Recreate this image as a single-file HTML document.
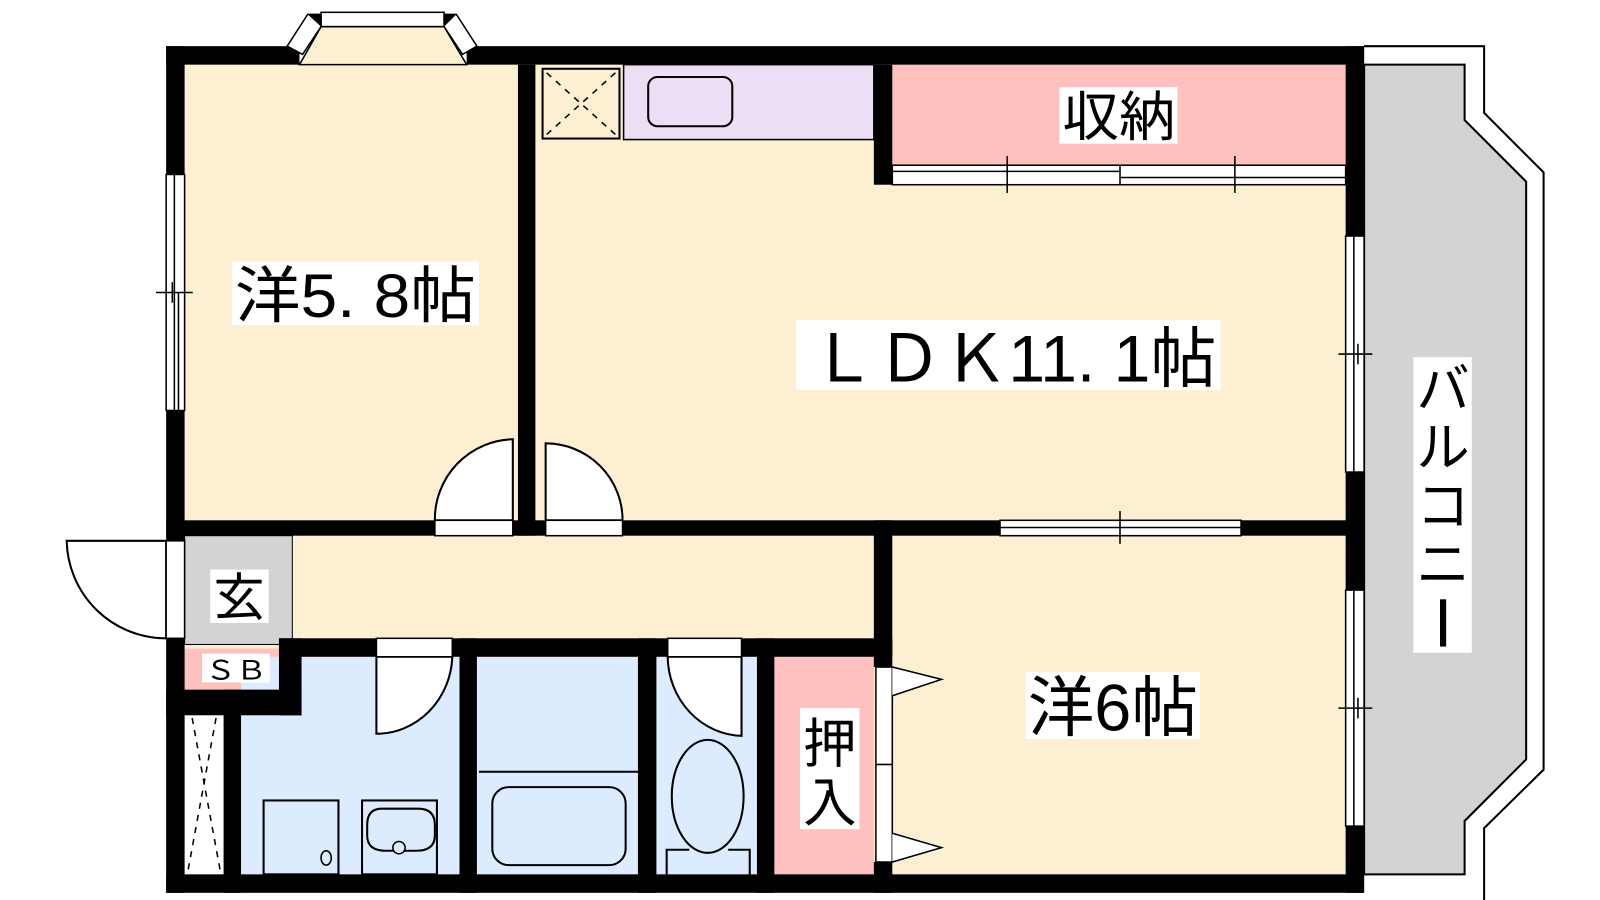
<!DOCTYPE html>
<html><head><meta charset="utf-8"><style>html,body{margin:0;padding:0;background:#fff}svg{display:block}text{font-family:"Liberation Sans","Noto Sans CJK JP",sans-serif;fill:#000}</style></head>
<body>
<svg width="1600" height="900" viewBox="0 0 1560 877" preserveAspectRatio="none" xmlns="http://www.w3.org/2000/svg">
<path d="M1330,45 L1447,45 L1447,110 L1505,168 L1505,750 L1447,807 L1447,877" fill="none" stroke="#000" stroke-width="2"/>
<path d="M1330,63 L1428,63 L1428,117 L1488,177 L1488,740 L1428,800 L1428,852 L1330,852 Z" fill="#d3d3d3" stroke="#000" stroke-width="2"/>
<rect x="180" y="63" width="1132" height="789" fill="#fdf0d2"/>
<rect x="608" y="63" width="244" height="73" fill="#ecdef5" stroke="#000" stroke-width="1.5"/>
<rect x="529" y="67" width="75" height="68" fill="#fdf0d2" stroke="#000" stroke-width="2"/>
<path d="M533,71 L600,131 M600,71 L533,131" stroke="#000" stroke-width="1.5" stroke-dasharray="6,6"/>
<rect x="632" y="75" width="82" height="48" rx="9" fill="none" stroke="#000" stroke-width="2"/>
<rect x="870" y="63" width="442" height="98" fill="#ffc0c0"/>
<rect x="180" y="522" width="105" height="106" fill="#d3d3d3" stroke="#000" stroke-width="1"/>
<rect x="180" y="632" width="92" height="40" fill="#ffc0c0"/>
<rect x="180" y="672" width="38" height="180" fill="#fff"/>
<path d="M183,676 L215,850 M215,676 L183,850" stroke="#000" stroke-width="1.5" stroke-dasharray="6,6"/>
<rect x="235" y="640" width="213" height="212" fill="#dcebfd"/>
<rect x="465" y="640" width="157" height="212" fill="#dcebfd"/>
<rect x="640" y="640" width="98" height="212" fill="#dcebfd"/>
<rect x="755" y="640" width="97" height="212" fill="#ffc0c0"/>
<rect x="257" y="780" width="73" height="72" fill="none" stroke="#000" stroke-width="2"/>
<ellipse cx="318" cy="836" rx="5" ry="7" fill="none" stroke="#000" stroke-width="1.5"/>
<rect x="353" y="780" width="73" height="72" fill="none" stroke="#000" stroke-width="2"/>
<path d="M372,788 h36 q16,0 16,16 v10 q0,15 -18,15 h-30 q-18,0 -18,-15 v-10 q0,-16 14,-16z" fill="none" stroke="#000" stroke-width="2"/>
<circle cx="389" cy="826" r="6" fill="#dcebfd" stroke="#000" stroke-width="1.5"/>
<line x1="467" y1="752" x2="622" y2="752" stroke="#000" stroke-width="2"/>
<rect x="480" y="767" width="130" height="76" rx="16" fill="none" stroke="#000" stroke-width="2"/>
<ellipse cx="690" cy="776" rx="35" ry="55" fill="#dcebfd" stroke="#000" stroke-width="2"/>
<path d="M650,852 V828 H672 M710,828 H731 V852" fill="none" stroke="#000" stroke-width="2"/>
<g fill="#fff" stroke="#000" stroke-width="2">
<path d="M500,507 V428 A78,78 0 0 0 424,507 Z"/>
<path d="M532,507 V432 A75,75 0 0 1 607,507 Z"/>
<path d="M367,640 V715 A74,78 0 0 0 441,640 Z"/>
<path d="M723,640 V717 A74,78 0 0 1 651,640 Z"/>
<path d="M162,527 H65 A97,97 0 0 0 162,622 Z"/>
</g>
<g fill="#000">
<rect x="162" y="45" width="130" height="18"/>
<rect x="455" y="45" width="875" height="18"/>
<rect x="162" y="45" width="18" height="125"/>
<rect x="162" y="400" width="18" height="127"/>
<rect x="162" y="622" width="18" height="248"/>
<rect x="162" y="852" width="1168" height="18"/>
<rect x="1312" y="45" width="18" height="185"/>
<rect x="1312" y="460" width="18" height="115"/>
<rect x="1312" y="805" width="18" height="65"/>
<rect x="505" y="63" width="17" height="459"/>
<rect x="162" y="507" width="262" height="15"/>
<rect x="500" y="507" width="32" height="15"/>
<rect x="607" y="507" width="368" height="15"/>
<rect x="1210" y="507" width="120" height="15"/>
<rect x="852" y="63" width="18" height="117"/>
<rect x="852" y="507" width="18" height="143"/>
<rect x="852" y="840" width="18" height="30"/>
<rect x="272" y="622" width="95" height="18"/>
<rect x="441" y="622" width="210" height="18"/>
<rect x="723" y="622" width="147" height="18"/>
<rect x="272" y="622" width="22" height="75"/>
<rect x="162" y="672" width="132" height="25"/>
<rect x="218" y="672" width="17" height="198"/>
<rect x="448" y="622" width="17" height="248"/>
<rect x="622" y="622" width="18" height="248"/>
<rect x="738" y="622" width="17" height="248"/>
</g>
<g fill="#fff" stroke="#000" stroke-width="1.5">
<rect x="424" y="507" width="76" height="15"/><rect x="532" y="507" width="75" height="15"/>
<rect x="367" y="622" width="74" height="18"/><rect x="651" y="622" width="72" height="18"/>
<rect x="162" y="527" width="18" height="95"/>
</g>
<g fill="#fff" stroke="#000" stroke-width="1.5">
<rect x="162" y="170" width="18" height="230"/>
<line x1="170" y1="170" x2="170" y2="400"/><line x1="174" y1="285" x2="174" y2="400"/>
<line x1="152" y1="285" x2="188" y2="285"/><line x1="168" y1="275" x2="168" y2="295"/>
<rect x="1312" y="230" width="18" height="230"/><line x1="1320" y1="230" x2="1320" y2="460"/>
<line x1="1305" y1="345" x2="1338" y2="345"/><line x1="1324" y1="335" x2="1324" y2="355"/>
<rect x="1312" y="575" width="18" height="230"/><line x1="1320" y1="575" x2="1320" y2="805"/>
<line x1="1305" y1="690" x2="1338" y2="690"/><line x1="1324" y1="680" x2="1324" y2="700"/>
<rect x="975" y="507" width="235" height="15"/><line x1="975" y1="514" x2="1210" y2="514"/>
<line x1="1092" y1="498" x2="1092" y2="530"/>
<rect x="870" y="161" width="442" height="19"/><line x1="870" y1="167" x2="1092" y2="167"/><line x1="1092" y1="173" x2="1312" y2="173"/>
<line x1="1092" y1="161" x2="1092" y2="180"/><line x1="982" y1="152" x2="982" y2="188"/><line x1="1204" y1="152" x2="1204" y2="188"/>
<rect x="854" y="650" width="16" height="95"/><rect x="854" y="745" width="16" height="95"/>
<path d="M870,650 L918,662 L870,678"/><path d="M870,812 L918,826 L870,840"/>
<rect x="313" y="12" width="120" height="14"/>
<path d="M280,45 L300,14 L313,14 L313,26 L295,53 Z"/>
<path d="M465,45 L445,14 L433,14 L433,26 L451,53 Z"/>
</g>
<path d="M292,63 L313,26 H433 L455,63 Z" fill="#fdf0d2" stroke="#000" stroke-width="1.5"/>
<path d="M300,14 L313,14 L313,26 Z M445,14 L433,14 L433,26 Z" fill="#000"/>
<g fill="#fff">
<rect x="226" y="255" width="241" height="62"/><rect x="776" y="312" width="414" height="68"/>
<rect x="1033" y="85" width="115" height="55"/><rect x="1000" y="655" width="170" height="65"/>
<rect x="1378" y="348" width="57" height="288"/><rect x="205" y="555" width="57" height="52"/>
<rect x="197" y="637" width="66" height="28"/><rect x="780" y="690" width="58" height="118"/>
</g>
<text x="229" y="309" font-size="60" textLength="235" lengthAdjust="spacingAndGlyphs">洋5. 8帖</text>
<text x="790" y="372" font-size="64" textLength="396" lengthAdjust="spacingAndGlyphs">ＬＤＫ11. 1帖</text>
<text x="1036" y="132" font-size="52" textLength="110" lengthAdjust="spacingAndGlyphs">収納</text>
<text x="1002" y="712" font-size="64" textLength="166" lengthAdjust="spacingAndGlyphs">洋6帖</text>
<text x="208" y="600" font-size="50">玄</text>
<text x="200" y="662" font-size="26" textLength="60" lengthAdjust="spacingAndGlyphs">ＳＢ</text>
<text x="783" y="743" font-size="52">押</text><text x="783" y="800" font-size="52">入</text>
<g font-size="52"><text x="1381" y="397">バ</text><text x="1381" y="454">ル</text><text x="1381" y="511">コ</text><text x="1381" y="568">ニ</text></g>
<rect x="1404" y="584" width="6" height="46" fill="#000"/>
</svg>
</body></html>
